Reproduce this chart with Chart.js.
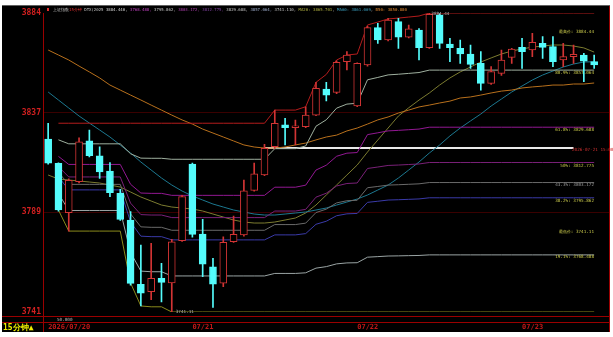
<!DOCTYPE html>
<html>
<head>
<meta charset="utf-8">
<script src="https://cdn.jsdelivr.net/npm/chart.js@4/dist/chart.umd.min.js"></script>
<style>
  html, body { margin: 0; padding: 0; background: #fff; }
  #wrap { width: 613px; height: 337px; }
</style>
</head>
<body>
<div id="wrap"><canvas id="kline" width="613" height="337"></canvas></div>
<script>
// 15-minute bars, 07/20 (last 14) .. 07/23 (first 8)
const days = ['07/20', '07/21', '07/22', '07/23'];
const times = ['09:45', '10:00', '10:15', '10:30', '10:45', '11:00', '11:15', '11:30',
               '13:15', '13:30', '13:45', '14:00', '14:15', '14:30', '14:45', '15:00'];
const dayLabels = ['2026/07/20', '07/21', '07/22', '07/23'];
const dayStart = [0, 14, 30, 46];

const opens = [3824.0, 3812.4, 3788.7, 3803.6, 3823.2, 3816.0, 3808.7, 3798.0, 3785.2, 3754.4,
               3750.8, 3757.2, 3755.1, 3775.3, 3812.0, 3778.5, 3762.8, 3754.9, 3774.8, 3778.0,
               3799.4, 3806.8, 3820.4, 3830.8, 3829.5, 3829.9, 3835.5, 3848.0, 3846.4, 3861.1,
               3839.9, 3859.5, 3877.4, 3871.5, 3880.3, 3872.8, 3876.3, 3867.8, 3883.5, 3869.6,
               3867.5, 3864.8, 3860.3, 3850.7, 3855.5, 3863.2, 3868.0, 3866.7, 3869.9, 3868.3,
               3861.9, 3863.5, 3864.3, 3861.1];
const closes = [3812.4, 3790.0, 3804.2, 3822.7, 3816.0, 3808.2, 3798.3, 3785.5, 3754.8, 3750.1,
                3757.2, 3755.3, 3774.8, 3796.4, 3778.3, 3764.0, 3754.5, 3774.5, 3778.3, 3799.2,
                3807.3, 3819.6, 3831.6, 3829.5, 3830.4, 3835.5, 3848.3, 3845.1, 3860.8, 3864.3,
                3860.3, 3877.4, 3871.5, 3881.1, 3872.8, 3876.8, 3867.8, 3883.8, 3869.9, 3867.8,
                3864.8, 3859.8, 3850.7, 3856.3, 3861.9, 3867.2, 3865.9, 3870.4, 3868.0, 3861.1,
                3863.5, 3864.6, 3861.4, 3859.5];
const highs = [3831.6, 3812.6, 3805.0, 3824.6, 3828.3, 3820.3, 3812.7, 3799.9, 3789.2, 3773.2,
               3774.0, 3764.4, 3776.0, 3797.0, 3812.5, 3785.5, 3766.8, 3777.2, 3787.1, 3804.4,
               3812.5, 3821.5, 3837.9, 3833.9, 3833.1, 3839.5, 3851.2, 3851.2, 3861.5, 3865.9,
               3860.5, 3878.0, 3879.5, 3881.9, 3881.9, 3878.7, 3877.0, 3884.44, 3884.0, 3872.3,
               3871.5, 3869.1, 3865.9, 3858.7, 3866.7, 3867.5, 3872.3, 3874.7, 3873.1, 3873.1,
               3869.9, 3869.1, 3865.1, 3864.3];
const lows = [3812.0, 3789.5, 3779.9, 3803.0, 3815.5, 3805.2, 3796.4, 3785.0, 3754.0, 3744.0,
              3747.0, 3746.0, 3741.11, 3775.0, 3777.0, 3758.0, 3743.3, 3753.2, 3774.5, 3777.5,
              3799.0, 3806.5, 3819.5, 3821.2, 3821.2, 3829.5, 3835.2, 3842.3, 3845.8, 3857.1,
              3839.5, 3859.0, 3869.9, 3871.0, 3867.5, 3872.5, 3861.9, 3867.5, 3867.5, 3861.1,
              3860.3, 3857.9, 3847.5, 3850.2, 3854.5, 3860.3, 3857.9, 3863.5, 3862.7, 3858.7,
              3858.7, 3860.3, 3851.5, 3857.9];

// DTX channel: top (red), bottom (olive) and the split levels
const dtxTop = [null, 3831.6, 3831.6, 3831.6, 3831.6, 3831.6, 3831.6, 3831.6, 3831.6, 3831.6,
                3831.6, 3831.6, 3831.6, 3831.6, 3831.6, 3831.6, 3831.6, 3831.6, 3831.6, 3831.6,
                3831.6, 3831.6, 3837.9, 3837.9, 3837.9, 3839.5, 3851.2, 3855.0, 3861.9, 3864.3,
                3864.8, 3878.7, 3880.1, 3881.6, 3882.0, 3882.5, 3883.0, 3884.44, 3884.44, 3884.44,
                3884.44, 3884.44, 3884.44, 3884.44, 3884.44, 3884.44, 3884.44, 3884.44, 3884.44, 3884.44,
                3884.44, 3884.44, 3884.44, 3884.44];
const dtxBottom = [null, 3790.0, 3779.9, 3779.9, 3779.9, 3779.9, 3779.9, 3779.9, 3755.0, 3744.0,
                   3743.6, 3743.6, 3741.11, 3741.11, 3741.11, 3741.11, 3741.11, 3741.11, 3741.11, 3741.11,
                   3741.11, 3741.11, 3741.11, 3741.11, 3741.11, 3741.11, 3741.11, 3741.11, 3741.11, 3741.11,
                   3741.11, 3741.11, 3741.11, 3741.11, 3741.11, 3741.11, 3741.11, 3741.11, 3741.11, 3741.11,
                   3741.11, 3741.11, 3741.11, 3741.11, 3741.11, 3741.11, 3741.11, 3741.11, 3741.11, 3741.11,
                   3741.11, 3741.11, 3741.11, 3741.11];
const lv809 = [null, 3823.65, 3821.73, 3821.73, 3821.73, 3821.73, 3821.73, 3821.73, 3816.97, 3814.87,
               3814.79, 3814.79, 3814.32, 3814.32, 3814.32, 3814.32, 3814.32, 3814.32, 3814.32, 3814.32,
               3814.32, 3814.32, 3819.41, 3819.41, 3819.41, 3820.71, 3830.17, 3833.25, 3838.83, 3840.77,
               3841.17, 3852.42, 3853.55, 3854.77, 3855.09, 3855.49, 3855.90, 3857.06, 3857.06, 3857.06,
               3857.06, 3857.06, 3857.06, 3857.06, 3857.06, 3857.06, 3857.06, 3857.06, 3857.06, 3857.06,
               3857.06, 3857.06, 3857.06, 3857.06];
const lv618 = [null, 3815.71, 3811.85, 3811.85, 3811.85, 3811.85, 3811.85, 3811.85, 3802.34, 3798.14,
               3797.98, 3797.98, 3797.03, 3797.03, 3797.03, 3797.03, 3797.03, 3797.03, 3797.03, 3797.03,
               3797.03, 3797.03, 3800.93, 3800.93, 3800.93, 3801.91, 3809.15, 3811.49, 3815.76, 3817.24,
               3817.55, 3826.14, 3827.01, 3827.93, 3828.18, 3828.49, 3828.80, 3829.69, 3829.69, 3829.69,
               3829.69, 3829.69, 3829.69, 3829.69, 3829.69, 3829.69, 3829.69, 3829.69, 3829.69, 3829.69,
               3829.69, 3829.69, 3829.69, 3829.69];
const lv500 = [null, 3810.80, 3805.85, 3805.85, 3805.85, 3805.85, 3805.85, 3805.85, 3793.30, 3787.80,
               3787.60, 3787.60, 3786.36, 3786.36, 3786.36, 3786.36, 3786.36, 3786.36, 3786.36, 3786.36,
               3786.36, 3786.36, 3789.51, 3789.51, 3789.51, 3790.31, 3796.16, 3798.06, 3801.51, 3802.71,
               3802.96, 3809.91, 3810.61, 3811.36, 3811.56, 3811.81, 3812.06, 3812.78, 3812.78, 3812.78,
               3812.78, 3812.78, 3812.78, 3812.78, 3812.78, 3812.78, 3812.78, 3812.78, 3812.78, 3812.78,
               3812.78, 3812.78, 3812.78, 3812.78];
const lv433 = [null, 3808.01, 3802.29, 3802.29, 3802.29, 3802.29, 3802.29, 3802.29, 3788.17, 3781.93,
               3781.70, 3781.70, 3780.29, 3780.29, 3780.29, 3780.29, 3780.29, 3780.29, 3780.29, 3780.29,
               3780.29, 3780.29, 3783.02, 3783.02, 3783.02, 3783.71, 3788.78, 3790.42, 3793.41, 3794.45,
               3794.67, 3800.69, 3801.29, 3801.94, 3802.12, 3802.33, 3802.55, 3803.17, 3803.17, 3803.17,
               3803.17, 3803.17, 3803.17, 3803.17, 3803.17, 3803.17, 3803.17, 3803.17, 3803.17, 3803.17,
               3803.17, 3803.17, 3803.17, 3803.17];
const lv382 = [null, 3805.89, 3799.65, 3799.65, 3799.65, 3799.65, 3799.65, 3799.65, 3784.26, 3777.46,
               3777.22, 3777.22, 3775.68, 3775.68, 3775.68, 3775.68, 3775.68, 3775.68, 3775.68, 3775.68,
               3775.68, 3775.68, 3778.08, 3778.08, 3778.08, 3778.69, 3783.16, 3784.62, 3787.25, 3788.17,
               3788.36, 3793.67, 3794.20, 3794.78, 3794.93, 3795.12, 3795.31, 3795.86, 3795.86, 3795.86,
               3795.86, 3795.86, 3795.86, 3795.86, 3795.86, 3795.86, 3795.86, 3795.86, 3795.86, 3795.86,
               3795.86, 3795.86, 3795.86, 3795.86];
const lv191 = [null, 3797.95, 3789.77, 3789.77, 3789.77, 3789.77, 3789.77, 3789.77, 3769.63, 3760.73,
               3760.41, 3760.41, 3758.39, 3758.39, 3758.39, 3758.39, 3758.39, 3758.39, 3758.39, 3758.39,
               3758.39, 3758.39, 3759.60, 3759.60, 3759.60, 3759.90, 3762.14, 3762.86, 3764.18, 3764.64,
               3764.73, 3767.39, 3767.66, 3767.94, 3768.02, 3768.12, 3768.21, 3768.49, 3768.49, 3768.49,
               3768.49, 3768.49, 3768.49, 3768.49, 3768.49, 3768.49, 3768.49, 3768.49, 3768.49, 3768.49,
               3768.49, 3768.49, 3768.49, 3768.49];
// drawn horizontal line from 07/21 15:00
const markLine = [null, null, null, null, null, null, null, null, null, null,
                  null, null, null, null, null, null, null, null, null, null,
                  null, 3819.7, 3819.7, 3819.7, 3819.7, 3819.7, 3819.7, 3819.7, 3819.7, 3819.7,
                  3819.7, 3819.7, 3819.7, 3819.7, 3819.7, 3819.7, 3819.7, 3819.7, 3819.7, 3819.7,
                  3819.7, 3819.7, 3819.7, 3819.7, 3819.7, 3819.7, 3819.7, 3819.7, 3819.7, 3819.7,
                  3819.7, 3819.7, null, null];

const ma20 = [3806.77, 3804.86, 3804.38, 3803.90, 3803.42, 3802.94, 3801.98, 3801.02, 3798.63, 3796.23,
              3794.31, 3792.39, 3791.43, 3790.95, 3790.48, 3789.52, 3788.08, 3786.64, 3785.20, 3784.24,
              3783.76, 3783.76, 3784.24, 3785.20, 3786.16, 3788.56, 3792.39, 3797.19, 3801.98, 3806.77,
              3811.57, 3817.80, 3823.55, 3829.31, 3835.06, 3839.00, 3842.70, 3846.09, 3849.90, 3853.30,
              3856.20, 3858.55, 3860.95, 3862.90, 3864.80, 3866.20, 3867.20, 3868.10, 3868.60, 3869.10,
              3869.10, 3868.60, 3867.70, 3865.70];
const ma60 = [3846.57, 3842.73, 3838.89, 3835.06, 3831.70, 3828.35, 3824.99, 3821.16, 3817.32, 3813.01,
              3809.17, 3805.34, 3801.98, 3799.10, 3796.71, 3794.79, 3792.87, 3791.43, 3790.00, 3789.04,
              3788.08, 3787.60, 3787.60, 3788.08, 3788.56, 3789.04, 3790.00, 3790.95, 3792.39, 3793.83,
              3795.27, 3797.19, 3799.58, 3801.98, 3805.34, 3809.17, 3813.01, 3817.32, 3821.16, 3825.50,
              3829.30, 3832.70, 3836.02, 3839.85, 3843.21, 3846.57, 3849.44, 3852.32, 3854.71, 3856.63,
              3858.55, 3859.99, 3860.95, 3861.07];
const b50 = [3866.70, 3864.30, 3861.91, 3859.00, 3856.20, 3853.30, 3849.90, 3847.50, 3845.10, 3842.73,
             3840.30, 3837.90, 3835.50, 3833.20, 3831.20, 3828.80, 3826.90, 3825.00, 3823.10, 3821.20,
             3820.20, 3819.70, 3819.70, 3820.20, 3821.20, 3822.10, 3823.60, 3825.00, 3825.90, 3827.90,
             3829.30, 3831.20, 3833.20, 3834.60, 3836.50, 3837.90, 3839.40, 3840.30, 3841.30, 3842.20,
             3843.70, 3844.20, 3845.10, 3846.10, 3847.00, 3847.50, 3848.50, 3849.00, 3849.40, 3849.90,
             3849.90, 3850.40, 3850.40, 3850.88];

const yTicks = [3741.11, 3788.88, 3836.66, 3884.44];
const fibLabels = [
  { text: '最高价: 3884.44', y: 32, color: '#c8c84a' },
  { text: '80.9%: 3857.064', y: 73, color: '#c8c84a' },
  { text: '61.8%: 3829.688', y: 130, color: '#c8c84a' },
  { text: '50%: 3812.775', y: 166, color: '#c8c84a' },
  { text: '43.3%: 3803.172', y: 185, color: '#9a9a9a' },
  { text: '38.2%: 3795.862', y: 201, color: '#c8c84a' },
  { text: '最低价: 3741.11', y: 232, color: '#c8c84a' },
  { text: '19.1%: 3768.488', y: 257, color: '#c8c84a' }
];
const header = [
  { text: '上证指数', color: '#c8c8c8' },
  { text: '15分钟 ', color: '#e03030' },
  { text: 'DTX(2025 ', color: '#c8c8c8' },
  { text: '3884.440, ', color: '#d8d8d8' },
  { text: '3768.488, ', color: '#c040c0' },
  { text: '3795.862, ', color: '#c8c8c8' },
  { text: '3803.172, ', color: '#b040b0' },
  { text: '3812.775, ', color: '#8040a0' },
  { text: '3829.688, ', color: '#c8c8c8' },
  { text: '3857.064, ', color: '#a0b0d0' },
  { text: '3741.110, ', color: '#c8c8c8' },
  { text: 'MA20: 3865.701', color: '#b0b040' },
  { text: ', ', color: '#c8c8c8' },
  { text: 'MA60: 3861.069', color: '#3aa0c0' },
  { text: ', ', color: '#c8c8c8' },
  { text: 'B50: 3850.880', color: '#e08830' }
];

const UP = '#d23434';
const DOWN = '#54fcfc';

// build categories
const cats = [];
days.forEach((d, k) => {
  let t = times;
  if (k === 0) t = times.slice(2);
  if (k === 3) t = times.slice(0, 8);
  t.forEach(tt => cats.push(d + ' ' + tt));
});
cats.push('');

const isUp = opens.map((o, i) => closes[i] >= o);
const bodies = opens.map((o, i) => [o, closes[i]]);
const wicks = lows.map((l, i) => [l, highs[i]]);

function lineSet(data, color, width) {
  return {
    type: 'line', data: data, borderColor: color, borderWidth: width || 1,
    pointRadius: 0, fill: false, tension: 0, order: 10
  };
}

const panel = {
  id: 'panel',
  beforeDraw(chart) {
    const c = chart.ctx;
    c.save();
    c.fillStyle = '#ffffff';
    c.fillRect(0, 0, chart.width, chart.height);
    c.fillStyle = '#000000';
    c.fillRect(2, 5, 608, 327);
    c.restore();
  },
  afterDraw(chart) {
    const c = chart.ctx;
    const xs = chart.scales.x;
    const ys = chart.scales.y;
    const mono = "'DejaVu Sans Mono', monospace";
    c.save();

    // frame lines
    c.strokeStyle = '#9a0000';
    c.lineWidth = 1;
    c.beginPath();
    c.moveTo(2, 316.5); c.lineTo(610, 316.5);
    c.moveTo(2, 322.5); c.lineTo(610, 322.5);
    c.moveTo(43.5, 312); c.lineTo(43.5, 332);
    c.moveTo(609.5, 5); c.lineTo(609.5, 332);
    c.stroke();
    c.strokeStyle = '#606060';
    c.beginPath();
    c.moveTo(2, 5.5); c.lineTo(610, 5.5);
    c.stroke();

    // header line
    c.textBaseline = 'middle';
    c.textAlign = 'left';
    c.fillStyle = '#e03030';
    c.fillRect(47, 8, 2, 3);
    c.font = '4px ' + mono;
    let hx = 53;
    header.forEach(h => {
      c.fillStyle = h.color;
      c.fillText(h.text, hx, 10);
      hx += c.measureText(h.text).width;
    });

    // right side level labels
    c.textAlign = 'right';
    c.font = '4.3px ' + mono;
    fibLabels.forEach(f => {
      c.fillStyle = f.color;
      c.fillText(f.text, 594, f.y);
    });
    c.textAlign = 'left';
    c.fillStyle = '#d03030';
    c.fillText('2026-07-21 15:00', 572, 149.5);

    // extreme price tags
    c.fillStyle = '#b8b8b8';
    c.fillText('3884.44', xs.getPixelForValue(37) + 2, ys.getPixelForValue(3884.44) + 1);
    c.fillText('3741.11', xs.getPixelForValue(12) + 4, ys.getPixelForValue(3741.11));
    c.fillText('50.000', 57, 319.5);

    // date axis
    c.font = 'bold 7px ' + mono;
    c.fillStyle = '#c01818';
    dayStart.forEach((idx, k) => {
      c.fillText(dayLabels[k], xs.getPixelForValue(idx), 327.5);
    });

    c.font = 'bold 8px ' + mono;
    c.fillStyle = '#f0f000';
    c.fillText('15分钟▲', 3, 327.5);
    c.restore();
  }
};

new Chart(document.getElementById('kline'), {
  type: 'bar',
  data: {
    labels: cats,
    datasets: [
      {
        data: bodies, grouped: false, barThickness: 7, order: 1,
        backgroundColor: isUp.map(u => u ? '#000000' : DOWN),
        borderColor: isUp.map(u => u ? UP : DOWN),
        borderWidth: 1, borderSkipped: false
      },
      {
        data: wicks, grouped: false, barThickness: 1, order: 2,
        backgroundColor: isUp.map(u => u ? UP : DOWN), borderWidth: 0
      },
      lineSet(dtxTop, '#b41c1c'),
      lineSet(dtxBottom, '#8a8a1c'),
      lineSet(lv809, '#9fb09f'),
      lineSet(lv618, '#921892'),
      lineSet(lv500, '#7a2078'),
      lineSet(lv433, '#6a6a6a'),
      lineSet(lv382, '#3a3aa8'),
      lineSet(lv191, '#9aa4a4'),
      lineSet(b50, '#b8701c'),
      lineSet(ma60, '#1c7890'),
      lineSet(ma20, '#7c7c30'),
      lineSet(markLine, '#e8e8e8', 2)
    ]
  },
  options: {
    responsive: false,
    animation: false,
    devicePixelRatio: 1,
    layout: { padding: { left: 2, top: 13, right: 3.4, bottom: 25 } },
    plugins: { legend: { display: false }, tooltip: { enabled: false } },
    scales: {
      x: { display: false, offset: true, grid: { display: false } },
      y: {
        min: 3741.11, max: 3884.44,
        afterFit: s => { s.width = 41; },
        afterBuildTicks: s => { s.ticks = yTicks.map(v => ({ value: v })); },
        ticks: {
          color: '#d42020', padding: 2,
          font: { family: "'DejaVu Sans Mono', monospace", size: 8, weight: 'bold' },
          callback: v => Math.round(v).toString()
        },
        grid: {
          drawTicks: false,
          color: ctx => (ctx.index === 1 || ctx.index === 2) ? '#3a0000' : 'rgba(0,0,0,0)'
        },
        border: { color: '#9a0000' }
      }
    }
  },
  plugins: [panel]
});
</script>
</body>
</html>
